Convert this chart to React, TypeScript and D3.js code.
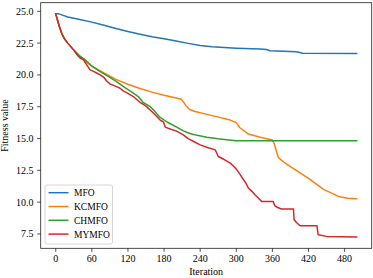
import React from "react";
import * as d3 from "d3";

const seriesNames = ["MFO", "KCMFO", "CHMFO", "MYMFO"];
const seriesColors = ["#1f77b4", "#ff7f0e", "#2ca02c", "#d62728"];

const mfoIter = [0, 5, 10, 20, 40, 60, 80, 100, 120, 140, 160, 180, 200, 220, 240, 260, 280, 300, 340, 350, 356, 400, 410, 500];
const mfoVal = [24.8, 24.8, 24.72, 24.55, 24.35, 24.15, 23.9, 23.65, 23.42, 23.2, 23.0, 22.85, 22.66, 22.48, 22.32, 22.22, 22.15, 22.1, 22.03, 22.0, 21.9, 21.82, 21.7, 21.68];

const kcIter = [0, 3, 6, 10, 15, 20, 30, 40, 50, 60, 80, 100, 120, 140, 160, 180, 200, 208, 212, 216, 222, 230, 260, 290, 300, 306, 320, 340, 360, 363, 366, 370, 380, 390, 420, 445, 470, 485, 500];
const kcVal = [24.8, 24.3, 23.8, 23.25, 22.8, 22.5, 21.95, 21.5, 21.05, 20.68, 20.15, 19.65, 19.27, 18.93, 18.65, 18.4, 18.18, 18.1, 17.9, 17.6, 17.3, 17.15, 16.8, 16.45, 16.25, 15.85, 15.35, 15.1, 14.88, 14.6, 14.1, 13.5, 13.1, 12.8, 11.87, 11.0, 10.45, 10.3, 10.27];

const chIter = [0, 3, 6, 10, 15, 20, 30, 40, 46, 60, 74, 90, 101, 115, 129, 137, 145, 157, 165, 173, 185, 201, 212, 223, 235, 251, 270, 284, 300, 500];
const chVal = [24.8, 24.3, 23.8, 23.25, 22.8, 22.5, 21.95, 21.45, 21.3, 20.7, 20.26, 19.8, 19.47, 19.0, 18.56, 18.3, 17.85, 17.51, 17.1, 16.68, 16.3, 15.9, 15.6, 15.4, 15.25, 15.11, 14.98, 14.9, 14.82, 14.82];

const myIter = [0, 3, 6, 10, 15, 20, 30, 36, 40, 46, 52, 57, 62, 68, 74, 80, 85, 90, 101, 107, 112, 120, 129, 135, 140, 145, 151, 160, 168, 173, 179, 182, 190, 200, 212, 220, 230, 240, 252, 265, 268, 270, 280, 290, 296, 301, 306, 312, 316, 320, 326, 331, 337, 342, 361, 364, 368, 375, 395, 396, 400, 406, 434, 436, 450, 500];
const myVal = [24.8, 24.3, 23.8, 23.25, 22.8, 22.5, 21.95, 21.55, 21.35, 21.18, 20.75, 20.4, 20.3, 20.15, 20.0, 19.8, 19.5, 19.3, 19.08, 18.95, 18.75, 18.55, 18.3, 18.05, 17.85, 17.7, 17.51, 17.1, 16.73, 16.47, 16.3, 15.9, 15.75, 15.6, 15.29, 15.0, 14.75, 14.5, 14.3, 14.11, 13.8, 13.59, 13.35, 13.07, 12.8, 12.54, 12.2, 11.76, 11.5, 11.11, 10.85, 10.58, 10.3, 10.06, 10.06, 9.72, 9.6, 9.46, 9.46, 8.62, 8.4, 8.15, 8.15, 7.44, 7.31, 7.26];

const xTicks = [0, 60, 120, 180, 240, 300, 360, 420, 480];
const yTicks = [7.5, 10.0, 12.5, 15.0, 17.5, 20.0, 22.5, 25.0];

const allIters = [mfoIter, kcIter, chIter, myIter];
const allVals = [mfoVal, kcVal, chVal, myVal];

export default function App() {
  const W = 373, H = 278;
  const left = 40.7, right = 371.7, top = 2.7, bottom = 248.3;
  const x = d3.scaleLinear().domain([-25, 525]).range([left, right]);
  const y = d3.scaleLinear().domain([6.373, 25.677]).range([bottom, top]);
  const line = d3.line<[number, number]>().x(d => x(d[0])).y(d => y(d[1]));
  const font = "'Liberation Serif', 'Times New Roman', serif";
  const legX = 45, legY = 185;
  return (
    <svg width={W} height={H} style={{ position: "absolute", left: 0, top: 0, background: "#fff" }} fontFamily={font}>
      <rect x={0} y={0} width={W} height={H} fill="#fff" />
      {allIters.map((its, i) => (
        <path key={i} d={line(its.map((t, j) => [t, allVals[i][j]]) as [number, number][]) || ""} fill="none" stroke={seriesColors[i]} strokeWidth={1.5} strokeLinejoin="round" strokeLinecap="square" />
      ))}
      <rect x={left} y={top} width={right - left} height={bottom - top} fill="none" stroke="#222" strokeWidth={0.8} />
      {xTicks.map(t => (
        <g key={t}>
          <line x1={x(t)} x2={x(t)} y1={bottom} y2={bottom + 3.5} stroke="#222" strokeWidth={0.8} />
          <text x={x(t)} y={262} textAnchor="middle" fontSize={10} fill="#000">{t}</text>
        </g>
      ))}
      {yTicks.map(t => (
        <g key={t}>
          <line x1={left - 3.5} x2={left} y1={y(t)} y2={y(t)} stroke="#222" strokeWidth={0.8} />
          <text x={33.5} y={y(t) + 3.5} textAnchor="end" fontSize={10} fill="#000">{t.toFixed(1)}</text>
        </g>
      ))}
      <text x={(left + right) / 2} y={275} textAnchor="middle" fontSize={10} fill="#000">Iteration</text>
      <text transform={`translate(8,${(top + bottom) / 2}) rotate(-90)`} textAnchor="middle" fontSize={10} fill="#000">Fitness value</text>
      <rect x={legX} y={legY} width={67.5} height={59} rx={2} fill="#fff" fillOpacity={0.8} stroke="#ccc" strokeWidth={0.8} />
      {seriesNames.map((n, i) => (
        <g key={n}>
          <line x1={48.5} x2={68.5} y1={192.7 + i * 13.8} y2={192.7 + i * 13.8} stroke={seriesColors[i]} strokeWidth={1.5} />
          <text x={74} y={192.7 + i * 13.8 + 3.4} fontSize={9.5} fill="#000">{n}</text>
        </g>
      ))}
    </svg>
  );
}
